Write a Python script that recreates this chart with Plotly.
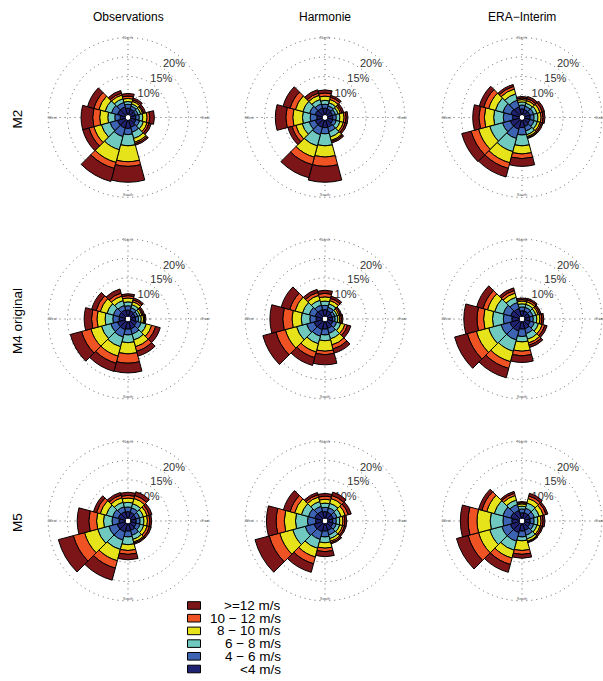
import numpy as np
import plotly.graph_objects as go

W, H = 603, 681

# 30-degree direction sectors, measured clockwise from north
DIRECTIONS = [0, 30, 60, 90, 120, 150, 180, 210, 240, 270, 300, 330]
SPEED_CLASSES = ["<4 m/s", "4 − 6 m/s", "6 − 8 m/s", "8 − 10 m/s", "10 − 12 m/s", ">=12 m/s"]
CLASS_COLORS = ["#1f2270", "#3d63b3", "#6fc9bf", "#e6e31a", "#f05323", "#7c1517"]
COLUMN_TITLES = ["Observations", "Harmonie", "ERA−Interim"]
ROW_TITLES = ["M2", "M4 original", "M5"]
RING_VALUES = [5, 10, 15, 20]
RING_LABELS = ["10%", "15%", "20%"]
COMPASS_ANGLES = [0, 90, 180, 270]
COMPASS = ["North", "East", "South", "West"]

# Cumulative frequency (%) per direction sector, summed up to each speed class
# (columns: <4, 4-6, 6-8, 8-10, 10-12, >=12 m/s)
obs_m2 = [
    [1.8, 2.8, 3.5, 4.3, 4.9, 5.6],
    [1.6, 2.4, 3.0, 3.7, 4.1, 4.6],
    [1.4, 2.1, 2.8, 3.3, 3.6, 4.1],
    [1.4, 2.3, 3.2, 4.3, 5.0, 6.2],
    [1.5, 2.5, 3.5, 4.5, 5.0, 5.6],
    [2.0, 3.3, 5.0, 6.0, 6.4, 6.8],
    [2.2, 3.8, 6.7, 10.8, 12.0, 16.1],
    [2.2, 4.5, 8.0, 11.4, 13.0, 16.5],
    [2.2, 4.2, 6.5, 8.5, 9.8, 11.5],
    [1.4, 2.8, 4.6, 6.7, 8.5, 11.5],
    [2.2, 3.8, 5.5, 7.2, 8.5, 10.2],
    [2.2, 3.4, 4.4, 5.4, 5.9, 6.6],
]
harm_m2 = [
    [1.8, 2.8, 3.8, 4.9, 5.7, 6.5],
    [1.6, 2.5, 3.3, 4.2, 4.8, 5.3],
    [1.4, 2.2, 2.9, 3.5, 3.9, 4.4],
    [1.4, 2.3, 3.2, 4.3, 4.8, 5.3],
    [1.5, 2.4, 3.4, 4.3, 4.8, 5.3],
    [2.0, 3.2, 4.6, 5.5, 5.8, 6.2],
    [2.0, 3.6, 6.7, 9.6, 12.0, 16.1],
    [2.0, 4.0, 7.0, 10.0, 12.0, 15.5],
    [2.0, 3.6, 5.5, 7.2, 8.2, 9.3],
    [1.5, 3.2, 5.2, 7.7, 9.5, 12.2],
    [2.0, 3.5, 5.3, 7.3, 8.7, 10.6],
    [1.9, 3.0, 4.2, 5.3, 5.9, 6.8],
]
era_m2 = [
    [1.6, 2.6, 3.4, 4.0, 4.4, 4.8],
    [1.5, 2.4, 3.2, 3.9, 4.4, 5.0],
    [1.5, 2.5, 3.4, 4.2, 4.8, 5.4],
    [1.5, 2.5, 3.5, 4.3, 4.8, 5.3],
    [1.5, 2.6, 3.5, 4.2, 4.6, 5.0],
    [1.8, 3.0, 4.0, 4.5, 4.8, 5.0],
    [2.0, 3.9, 6.7, 8.8, 10.0, 12.0],
    [2.5, 5.0, 8.5, 11.5, 13.0, 15.3],
    [2.5, 4.6, 8.0, 11.0, 13.0, 15.5],
    [1.8, 4.2, 6.7, 9.1, 10.5, 12.1],
    [2.4, 4.5, 6.5, 8.3, 9.6, 10.8],
    [2.2, 4.0, 5.7, 7.0, 7.7, 8.2],
]
obs_m4 = [
    [1.7, 2.8, 3.8, 4.8, 5.4, 5.9],
    [1.5, 2.4, 3.2, 4.0, 4.5, 5.0],
    [1.3, 2.0, 2.6, 3.1, 3.4, 3.8],
    [1.3, 2.1, 2.8, 3.4, 3.7, 4.0],
    [1.7, 2.9, 4.3, 5.7, 6.8, 8.0],
    [2.0, 3.4, 5.0, 6.8, 8.0, 9.3],
    [2.0, 3.5, 5.5, 8.4, 10.8, 13.3],
    [2.2, 4.2, 6.8, 9.3, 11.2, 13.4],
    [2.2, 4.0, 6.5, 9.3, 11.8, 14.8],
    [1.7, 3.3, 5.3, 7.4, 8.8, 10.7],
    [1.8, 3.3, 5.0, 6.8, 7.9, 9.1],
    [1.8, 3.0, 4.3, 5.5, 6.3, 7.4],
]
harm_m4 = [
    [1.8, 2.9, 4.0, 5.1, 6.0, 6.8],
    [1.6, 2.5, 3.4, 4.3, 4.9, 5.5],
    [1.3, 2.0, 2.6, 3.1, 3.5, 3.8],
    [1.3, 2.0, 2.7, 3.2, 3.6, 4.0],
    [1.5, 2.5, 3.6, 4.7, 5.4, 6.3],
    [1.9, 3.2, 4.7, 6.3, 7.4, 8.5],
    [2.0, 3.5, 5.0, 7.7, 8.6, 11.2],
    [2.2, 4.0, 6.0, 8.2, 9.7, 11.8],
    [2.3, 4.3, 7.0, 10.0, 12.5, 16.0],
    [1.7, 3.3, 5.5, 7.9, 10.3, 13.6],
    [2.0, 3.6, 5.4, 7.4, 8.8, 11.1],
    [1.9, 3.1, 4.4, 5.7, 6.5, 7.3],
]
era_m4 = [
    [1.5, 2.5, 3.3, 4.0, 4.4, 4.8],
    [1.5, 2.5, 3.3, 4.0, 4.5, 4.9],
    [1.4, 2.3, 3.1, 3.7, 4.1, 4.5],
    [1.4, 2.3, 3.2, 4.0, 4.5, 5.0],
    [1.6, 2.7, 3.8, 4.8, 5.5, 6.1],
    [2.0, 3.3, 4.8, 5.8, 6.4, 7.0],
    [2.0, 3.9, 5.3, 7.7, 8.9, 10.6],
    [2.6, 5.0, 8.0, 10.8, 12.6, 15.1],
    [2.6, 5.0, 8.3, 11.6, 14.0, 17.4],
    [2.0, 4.2, 7.0, 9.3, 11.0, 14.4],
    [2.4, 4.4, 6.7, 8.6, 9.8, 11.5],
    [2.2, 3.8, 5.2, 6.3, 7.0, 7.7],
]
obs_m5 = [
    [1.8, 3.0, 4.2, 5.3, 6.0, 6.8],
    [1.7, 2.9, 4.0, 5.4, 6.2, 7.2],
    [1.5, 2.5, 3.5, 4.5, 5.1, 5.8],
    [1.5, 2.5, 3.5, 4.4, 5.0, 5.5],
    [1.6, 2.6, 3.6, 4.5, 5.1, 5.6],
    [1.9, 3.2, 4.3, 5.0, 5.3, 5.6],
    [2.0, 3.5, 5.5, 7.0, 8.0, 9.4],
    [2.3, 4.5, 7.0, 10.0, 12.0, 15.2],
    [2.3, 4.5, 7.5, 11.0, 14.0, 18.0],
    [1.7, 3.5, 5.7, 7.5, 9.5, 12.5],
    [2.0, 3.5, 5.2, 6.8, 7.8, 8.6],
    [1.9, 3.2, 4.4, 5.6, 6.3, 7.0],
]
harm_m5 = [
    [1.8, 2.9, 4.0, 5.0, 5.8, 6.5],
    [1.7, 2.9, 4.1, 5.4, 6.2, 7.1],
    [1.6, 2.6, 3.7, 4.8, 5.6, 6.4],
    [1.4, 2.3, 3.2, 4.0, 4.5, 5.0],
    [1.5, 2.4, 3.3, 4.1, 4.6, 5.0],
    [1.9, 3.1, 4.1, 4.8, 5.2, 5.5],
    [2.0, 3.5, 5.0, 6.4, 7.3, 8.6],
    [2.2, 4.3, 6.7, 9.0, 10.8, 13.1],
    [2.3, 4.7, 8.0, 11.5, 14.3, 18.1],
    [1.8, 3.9, 7.0, 9.9, 12.0, 14.5],
    [2.1, 3.8, 5.7, 7.5, 8.7, 10.5],
    [2.0, 3.3, 4.6, 5.8, 6.4, 7.0],
]
era_m5 = [
    [1.5, 2.5, 3.2, 3.8, 4.1, 4.4],
    [1.6, 2.8, 4.2, 5.4, 6.1, 6.8],
    [1.6, 2.7, 4.0, 5.1, 5.8, 6.3],
    [1.5, 2.5, 3.5, 4.3, 4.8, 5.3],
    [1.5, 2.5, 3.4, 4.2, 4.6, 5.0],
    [1.9, 3.2, 4.2, 4.8, 5.0, 5.2],
    [2.0, 3.5, 4.5, 7.0, 8.0, 9.0],
    [2.5, 4.8, 7.2, 9.3, 11.0, 13.1],
    [2.5, 4.8, 8.0, 11.0, 13.8, 16.9],
    [2.0, 4.3, 7.6, 11.0, 13.3, 15.3],
    [2.4, 4.5, 6.8, 8.8, 10.1, 11.0],
    [2.2, 3.8, 5.0, 6.2, 6.8, 7.3],
]

ROSES = [
    [obs_m2, harm_m2, era_m2],
    [obs_m4, harm_m4, era_m4],
    [obs_m5, harm_m5, era_m5],
]

# Panel geometry (pixels)
CX = [128, 325, 522]
CY = [117.5, 319, 521]
R_PX = 81          # half-size of each polar domain
R_MAX = 20.3       # radial range, keeps the 20% ring just inside the frame
HOLE = 0.03
GRID_COLOR = "#5c5c5c"
GRID_DASH = "1px,4px"
FONT = "Liberation Sans, Arial, Helvetica, sans-serif"

# Pairs of polar ids: (background with grid and labels, foreground with bars).
# Each pair is chosen so the background is drawn first in any id ordering.
PAIRS = [(1, 2), (3, 4), (5, 6), (7, 8), (10, 11), (12, 13), (14, 15), (16, 17), (18, 19)]


def pid(n):
    return "polar" if n == 1 else f"polar{n}"


fig = go.Figure()
layout_polars = {}

for row in range(3):
    for col in range(3):
        k = row * 3 + col
        bg_n, fg_n = PAIRS[k]
        bg, fg = pid(bg_n), pid(fg_n)
        cx, cy = CX[col], CY[row]
        dom = dict(
            x=[max(0.0, (cx - R_PX) / W), min(1.0, (cx + R_PX) / W)],
            y=[1 - (cy + R_PX) / H, 1 - (cy - R_PX) / H],
        )

        layout_polars[bg] = dict(
            domain=dom,
            hole=HOLE,
            bgcolor="white",
            radialaxis=dict(
                range=[0, R_MAX], tickvals=RING_VALUES, showticklabels=False,
                ticks="", showline=False, showgrid=True, gridcolor=GRID_COLOR,
                griddash=GRID_DASH, gridwidth=1,
            ),
            angularaxis=dict(
                rotation=90, direction="clockwise", tickvals=COMPASS_ANGLES,
                showticklabels=False, ticks="", showline=False, showgrid=True,
                gridcolor=GRID_COLOR, griddash=GRID_DASH, gridwidth=1,
            ),
        )
        layout_polars[fg] = dict(
            domain=dom,
            hole=HOLE,
            bgcolor="rgba(0,0,0,0)",
            barmode="stack",
            radialaxis=dict(range=[0, R_MAX], showticklabels=False, ticks="",
                            showline=False, showgrid=False),
            angularaxis=dict(rotation=90, direction="clockwise", showticklabels=False,
                             ticks="", showline=False, showgrid=False),
        )

        # ring labels sit just inside their rings, toward the north-east
        fig.add_trace(go.Scatterpolar(
            r=[v - 2.5 for v in RING_VALUES[1:]], theta=[41, 41, 41],
            text=RING_LABELS, mode="text",
            textfont=dict(size=11, color="#333333", family=FONT),
            subplot=bg, showlegend=False, hoverinfo="skip",
        ))
        # compass names on the outer ring
        fig.add_trace(go.Scatterpolar(
            r=[19.8, 19.4, 19.5, 18.9], theta=COMPASS_ANGLES,
            text=COMPASS, mode="text",
            textfont=dict(size=4, color="#666666", family=FONT),
            subplot=bg, showlegend=False, hoverinfo="skip",
        ))

        cum = np.array(ROSES[row][col], dtype=float)
        freq = np.diff(cum, axis=1, prepend=0.0)
        for i, name in enumerate(SPEED_CLASSES):
            fig.add_trace(go.Barpolar(
                r=freq[:, i], theta=DIRECTIONS, width=[30] * len(DIRECTIONS),
                name=name, subplot=fg, showlegend=False, hoverinfo="skip",
                marker=dict(color=CLASS_COLORS[i], line=dict(color="black", width=1)),
            ))

annotations = []
for col, title in enumerate(COLUMN_TITLES):
    annotations.append(dict(
        x=CX[col] / W, y=1 - 17 / H, xref="paper", yref="paper",
        text=title, showarrow=False, xanchor="center", yanchor="middle",
        font=dict(size=12, color="black", family=FONT),
    ))
for row, title in enumerate(ROW_TITLES):
    annotations.append(dict(
        x=17 / W, y=1 - (CY[row] + 2) / H, xref="paper", yref="paper",
        text=title, showarrow=False, textangle=-90, xanchor="center", yanchor="middle",
        font=dict(size=13.5, color="black", family=FONT),
    ))

# speed-class key below the panels, strongest class on top
shapes = []
key_top, key_step = 605.5, 12.7
for j, i in enumerate(reversed(range(len(SPEED_CLASSES)))):
    yc = key_top + j * key_step
    shapes.append(dict(
        type="rect", xref="paper", yref="paper",
        x0=187.5 / W, x1=200.5 / W, y0=1 - (yc + 3.8) / H, y1=1 - (yc - 3.8) / H,
        fillcolor=CLASS_COLORS[i], line=dict(color="black", width=1),
    ))
    annotations.append(dict(
        x=283 / W, y=1 - yc / H, xref="paper", yref="paper",
        text=SPEED_CLASSES[i], showarrow=False, xanchor="right", yanchor="middle",
        font=dict(size=13.5, color="black", family=FONT),
    ))

fig.update_layout(
    width=W, height=H,
    margin=dict(l=0, r=0, t=0, b=0),
    paper_bgcolor="white",
    plot_bgcolor="white",
    showlegend=False,
    font=dict(family=FONT),
    annotations=annotations,
    shapes=shapes,
    **layout_polars,
)

fig.write_html("out.html")
